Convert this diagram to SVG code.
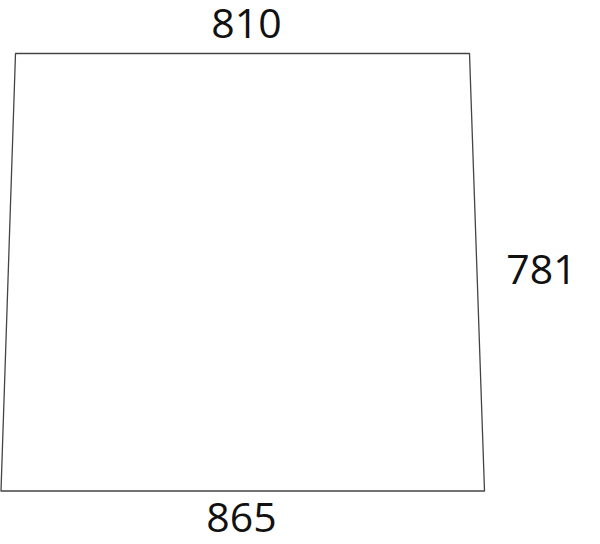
<svg xmlns="http://www.w3.org/2000/svg" width="600" height="544" viewBox="0 0 600 544">
<style>
.lbl{font-family:"Open Sans","Liberation Sans",sans-serif;font-size:41px;fill:#111;text-anchor:middle}
.shape{fill:#fff;stroke:#444;stroke-width:1.3;stroke-linejoin:round}
</style>
<rect width="600" height="544" fill="#fff"/>
<g id="panel">
<path class="shape" d="M15.5,53.5 L469.5,53.5 L484.5,491 L1,491 Z"/>
</g>
<g id="labels">
<text class="lbl" x="246.5" y="38">810</text>
<text class="lbl" x="541.5" y="284">781</text>
<text class="lbl" x="241.5" y="532">865</text>
</g>
</svg>
